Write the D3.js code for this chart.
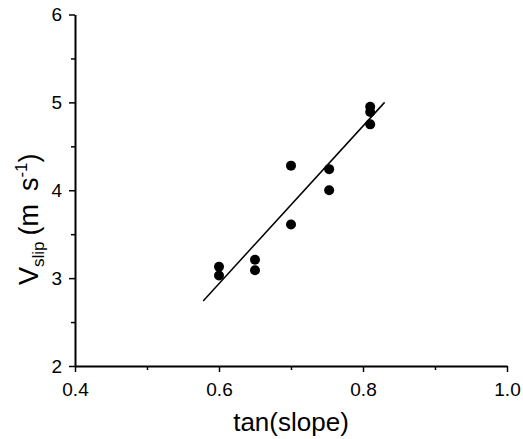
<!DOCTYPE html>
<html><head><meta charset="utf-8">
<script src="https://cdn.jsdelivr.net/npm/d3@7"></script>
<style>body{margin:0;background:#fff;} svg{display:block;}</style>
</head><body>
<svg id="c" width="523" height="439"></svg>
<script>
const slopeX = [0.60, 0.60, 0.65, 0.65, 0.70, 0.70, 0.753, 0.753, 0.81, 0.81, 0.81];
const vslipY = [3.13, 3.03, 3.21, 3.09, 4.28, 3.61, 4.24, 4.00, 4.95, 4.89, 4.75];
const fitX = [0.578, 0.830];
const fitY = [2.74, 5.00];
const xTicks = [0.4, 0.6, 0.8, 1.0];
const xMinor = [0.5, 0.7, 0.9];
const yTicks = [2, 3, 4, 5, 6];
const yMinor = [2.5, 3.5, 4.5, 5.5];

const svg = d3.select("#c");
const x = d3.scaleLinear().domain([0.4, 1.0]).range([75, 507]);
const y = d3.scaleLinear().domain([2, 6]).range([366, 14.5]);
const font = "Liberation Sans, Arial, sans-serif";

// minor ticks
svg.append("g").attr("transform", "translate(0,366)")
  .call(d3.axisBottom(x).tickValues(xMinor).tickSize(4).tickFormat(""))
  .call(g => g.select(".domain").remove())
  .selectAll("line").attr("stroke", "#000").attr("stroke-width", 1.5);
svg.append("g").attr("transform", "translate(75,0)")
  .call(d3.axisLeft(y).tickValues(yMinor).tickSize(4).tickFormat(""))
  .call(g => g.select(".domain").remove())
  .selectAll("line").attr("stroke", "#000").attr("stroke-width", 1.5);

// major axes
const gx = svg.append("g").attr("transform", "translate(0,366)")
  .call(d3.axisBottom(x).tickValues(xTicks).tickSize(6).tickSizeOuter(0).tickPadding(11).tickFormat(d3.format(".1f")));
const gy = svg.append("g").attr("transform", "translate(75,0)")
  .call(d3.axisLeft(y).tickValues(yTicks).tickSize(6).tickSizeOuter(0).tickPadding(7).tickFormat(d3.format("d")));
[gx, gy].forEach(g => {
  g.select(".domain").attr("stroke", "#000").attr("stroke-width", 2);
  g.selectAll(".tick line").attr("stroke", "#000").attr("stroke-width", 1.5);
  g.selectAll(".tick text").attr("fill", "#000").style("font-family", font).style("font-size", "19px");
});

// fit line
svg.append("line")
  .attr("x1", x(fitX[0])).attr("y1", y(fitY[0]))
  .attr("x2", x(fitX[1])).attr("y2", y(fitY[1]))
  .attr("stroke", "#000").attr("stroke-width", 1.5);

// points
svg.append("g").selectAll("circle").data(slopeX.map((d, i) => [d, vslipY[i]]))
  .join("circle")
  .attr("cx", d => x(d[0])).attr("cy", d => y(d[1])).attr("r", 5).attr("fill", "#000");

// x label
svg.append("text").attr("x", 291).attr("y", 431).attr("text-anchor", "middle")
  .style("font-family", font).style("font-size", "26px").text("tan(slope)");

// y label
const yl = svg.append("text").attr("transform", "translate(38,285) rotate(-90)")
  .attr("text-anchor", "start").style("font-family", font).style("font-size", "27px");
yl.append("tspan").text("V");
yl.append("tspan").attr("dy", 6).style("font-size", "17px").text("slip");
yl.append("tspan").attr("dy", -6).attr("dx", 6).text("(m\u2009 s");
yl.append("tspan").attr("dy", -11).style("font-size", "17px").text("-1");
yl.append("tspan").attr("dy", 11).text(")");
</script>
</body></html>
